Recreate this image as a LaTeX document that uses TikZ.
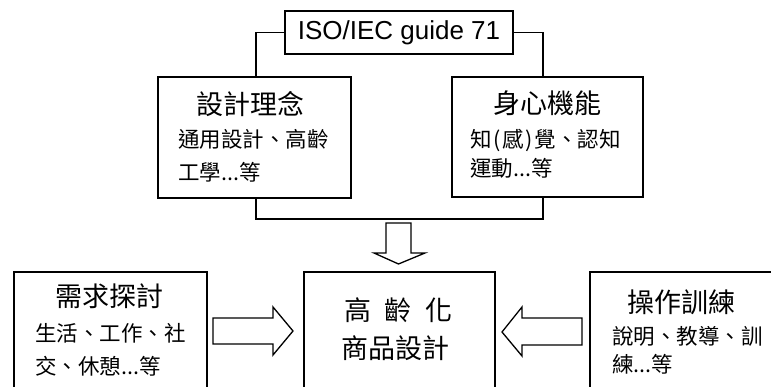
\documentclass[tikz,border=0pt]{standalone}
\usepackage{fontspec}
\setmainfont{Liberation Sans}
\newfontfamily\cjk{Noto Sans CJK TC}
\begin{document}
\begin{tikzpicture}[x=1pt,y=-1pt,
  box/.style={draw, line width=1.7pt, inner sep=0, anchor=north west},
  conn/.style={line width=1.7pt},
  blk/.style={draw, line width=1.3pt, fill=white, line join=miter},
  ttl/.style={font=\cjk\fontsize{27}{27}\selectfont, inner sep=0},
  sub/.style={font=\cjk\fontsize{21.5}{21.5}\selectfont, inner sep=0, anchor=west}]
\clip (0,0) rectangle (771,387);
\fill[white] (0,0) rectangle (771,387);

% boxes
\node[draw, line width=1.7pt, minimum width=228pt, minimum height=43pt, inner sep=0,
      font=\fontsize{26}{26}\selectfont] (iso) at (399,32.5) {ISO/IEC guide 71};
\node[box, minimum width=193pt, minimum height=121pt] (lbox) at (157,76) {};
\node[box, minimum width=191pt, minimum height=120pt] (rbox) at (451,76) {};
\node[box, minimum width=193pt, minimum height=140pt] (nbox) at (13,271) {};
\node[box, minimum width=191pt, minimum height=140pt] (cbox) at (303,271) {};
\node[box, minimum width=200pt, minimum height=140pt] (tbox) at (589,271) {};

% texts
\node[ttl] (l1) at (250,104) {設計理念};
\node[sub] (l2) at (178,139) {通用設計、高齡};
\node[sub] (l3) at (178,172) {工學...等};

\node[ttl] (r1) at (547,103) {身心機能};
\node[sub] (r2) at (470,140) {知\makebox[0.5em]{(}感\makebox[0.5em]{)}覺、認知};
\node[sub] (r3) at (470,168) {運動...等};

\node[ttl] (n1) at (109,296) {需求探討};
\node[sub] (n2) at (35,333) {生活、工作、社};
\node[sub] (n3) at (35,366) {交、休憩...等};

\node[ttl] (c1) at (398,310) {高\hspace{0.5em}齡\hspace{0.5em}化};
\node[ttl] (c2) at (395,348) {商品設計};

\node[ttl] (t1) at (681,302) {操作訓練};
\node[sub] (t2) at (612,336) {說明、教導、訓};
\node[sub] (t3) at (612,364) {練...等};

% connectors
\coordinate (jn) at (398,219);
\draw[conn] (iso.west) -| ([xshift=1.5pt]lbox.north);
\draw[conn] (iso.east) -| ([xshift=-4.5pt]rbox.north);
\draw[conn] ([xshift=1.5pt]lbox.south) |- (jn) -| ([xshift=-4.5pt]rbox.south);

% block arrows
\draw[blk] (386,223) -- (411,223) -- (411,253) -- (425,253) -- (398.5,264) -- (374,253) -- (386,253) -- cycle;
\draw[blk] (213,318) -- (273,318) -- (273,307) -- (293,331) -- (273,355) -- (273,344) -- (213,344) -- cycle;
\draw[blk] (582,318) -- (522,318) -- (522,307) -- (502,332) -- (522,356) -- (522,345) -- (582,345) -- cycle;
\end{tikzpicture}
\end{document}
